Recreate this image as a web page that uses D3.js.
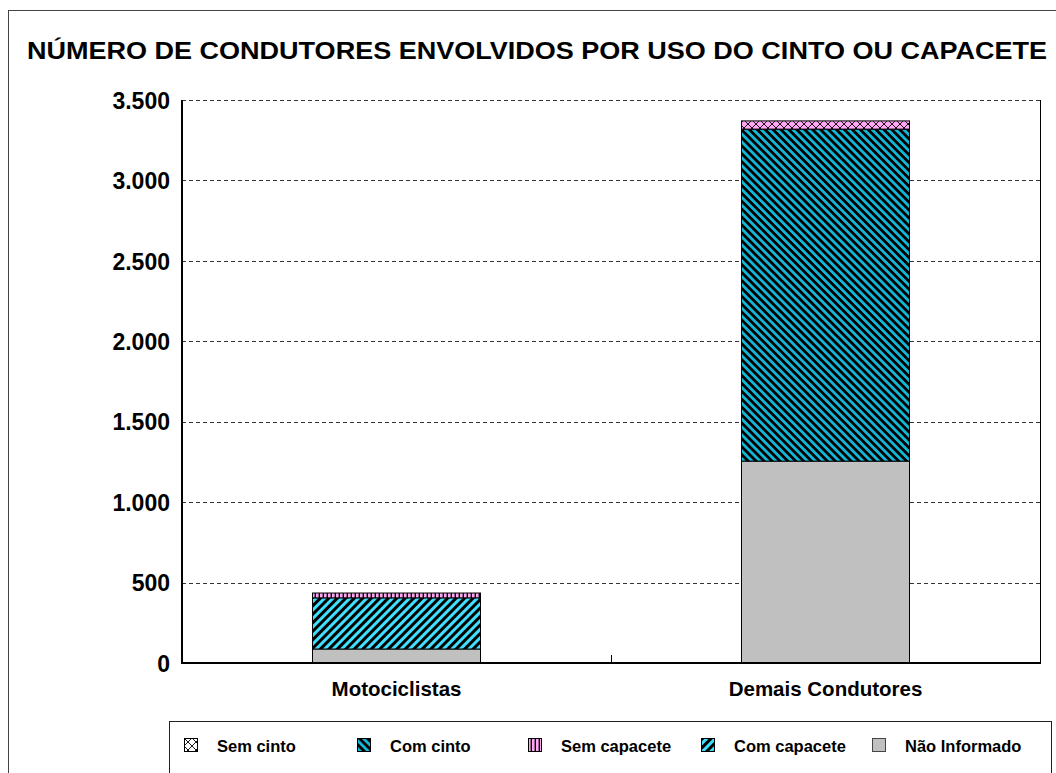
<!DOCTYPE html>
<html>
<head>
<meta charset="utf-8">
<script src="https://cdn.jsdelivr.net/npm/d3@7"></script>
<style>
  body { margin: 0; background: #fff; }
  svg { display: block; }
  text { font-family: "Liberation Sans", Arial, sans-serif; font-weight: bold; fill: #000; }
</style>
</head>
<body>
<div id="chart"></div>
<script>
const categories = ["Motociclistas", "Demais Condutores"];
const legendOrder = ["Sem cinto", "Com cinto", "Sem capacete", "Com capacete", "Não Informado"];
const stackOrder = ["Não Informado", "Com capacete", "Sem capacete", "Com cinto", "Sem cinto"];

// values per category (Motociclistas, Demais Condutores)
const naoInformado = [87, 1255];
const comCapacete = [318, 0];
const semCapacete = [30, 0];
const comCinto = [0, 2064];
const semCinto = [0, 51];

const yTicks = [0, 500, 1000, 1500, 2000, 2500, 3000, 3500];

const rows = categories.map((c, i) => ({
    cat: c,
    "Não Informado": naoInformado[i],
    "Com capacete": comCapacete[i],
    "Sem capacete": semCapacete[i],
    "Com cinto": comCinto[i],
    "Sem cinto": semCinto[i]
}));

const W = 1056, H = 773;
const plot = { left: 182, right: 1040, top: 100, bottom: 663 };

const svg = d3.select("#chart").append("svg").attr("width", W).attr("height", H);
const defs = svg.append("defs");

const pink = "#ffa6f2";

// diagonal stripes "/"
const pCapacete = defs.append("pattern").attr("id", "p-comcapacete")
    .attr("patternUnits", "userSpaceOnUse").attr("width", 6).attr("height", 6)
    .attr("patternTransform", "rotate(45)");
pCapacete.append("rect").attr("width", 6).attr("height", 6).attr("fill", "#3fe0ff");
pCapacete.append("rect").attr("width", 3).attr("height", 6).attr("fill", "#000");

// diagonal stripes "\"
const pCinto = defs.append("pattern").attr("id", "p-comcinto")
    .attr("patternUnits", "userSpaceOnUse").attr("width", 5.6).attr("height", 5.6)
    .attr("patternTransform", "rotate(-45)");
pCinto.append("rect").attr("width", 5.6).attr("height", 5.6).attr("fill", "#12b6d6");
pCinto.append("rect").attr("width", 2.8).attr("height", 5.6).attr("fill", "#000");

// vertical stripes
const pSemCap = defs.append("pattern").attr("id", "p-semcapacete")
    .attr("patternUnits", "userSpaceOnUse").attr("width", 4).attr("height", 4);
pSemCap.append("rect").attr("width", 4).attr("height", 4).attr("fill", pink);
pSemCap.append("rect").attr("x", 2.6).attr("width", 1.4).attr("height", 4).attr("fill", "#000");

// cross hatch
const makeCross = (id, bg) => {
    const p = defs.append("pattern").attr("id", id)
        .attr("patternUnits", "userSpaceOnUse").attr("width", 8).attr("height", 8);
    p.append("rect").attr("width", 8).attr("height", 8).attr("fill", bg);
    p.append("path").attr("d", "M0,0L8,8M8,0L0,8").attr("stroke", "#000").attr("stroke-width", 0.9);
};
makeCross("p-semcinto", pink);
makeCross("p-semcinto-leg", "#fff");

const fills = {
    "Não Informado": "#c0c0c0",
    "Com capacete": "url(#p-comcapacete)",
    "Sem capacete": "url(#p-semcapacete)",
    "Com cinto": "url(#p-comcinto)",
    "Sem cinto": "url(#p-semcinto)"
};
const legendFills = Object.assign({}, fills, { "Sem cinto": "url(#p-semcinto-leg)" });

// outer chart border
svg.append("rect").attr("x", 8.5).attr("y", 10.5).attr("width", 1070).attr("height", 800)
    .attr("fill", "none").attr("stroke", "#444").attr("stroke-width", 1);

// title
svg.append("text").attr("x", 27).attr("y", 58.5)
    .attr("font-size", 23)
    .attr("textLength", 1020).attr("lengthAdjust", "spacingAndGlyphs")
    .text("NÚMERO DE CONDUTORES ENVOLVIDOS POR USO DO CINTO OU CAPACETE");

const x = d3.scaleBand().domain(categories).range([plot.left, plot.right]).paddingInner(0).paddingOuter(0);
const y = d3.scaleLinear().domain([0, 3500]).range([plot.bottom, plot.top]);

const fmt = d3.formatLocale({ decimal: ",", thousands: ".", grouping: [3], currency: ["", ""] }).format(",");

// gridlines
svg.append("g").selectAll("line").data(yTicks.filter(d => d > 0)).join("line")
    .attr("x1", plot.left).attr("x2", plot.right)
    .attr("y1", d => Math.round(y(d)) + 0.5).attr("y2", d => Math.round(y(d)) + 0.5)
    .attr("stroke", "#333").attr("stroke-dasharray", "4,3").attr("stroke-width", 1);

// y labels
const yAxis = d3.axisLeft(y).tickValues(yTicks).tickFormat(fmt).tickSize(0).tickPadding(12);
const gy = svg.append("g").attr("transform", `translate(${plot.left},0)`).call(yAxis);
gy.select(".domain").remove();
gy.selectAll("text").attr("font-size", 23).attr("dy", "0.36em")
    .style("font-family", "Liberation Sans, Arial, sans-serif").style("font-weight", "bold");

// bars
const barW = 168;
const stack = d3.stack().keys(stackOrder);
const layers = stack(rows);
svg.append("g").selectAll("g").data(layers).join("g")
    .attr("fill", d => fills[d.key])
    .selectAll("rect").data(d => d.filter(s => s[1] - s[0] > 0)).join("rect")
    .attr("x", d => x(d.data.cat) + x.bandwidth() / 2 - barW / 2)
    .attr("y", d => y(d[1]))
    .attr("width", barW)
    .attr("height", d => y(d[0]) - y(d[1]))
    .attr("stroke", "#000").attr("stroke-width", 1);

// plot frame: right edge, axes
svg.append("line").attr("x1", plot.right + 0.5).attr("x2", plot.right + 0.5)
    .attr("y1", plot.top).attr("y2", plot.bottom).attr("stroke", "#000");
svg.append("line").attr("x1", plot.left).attr("x2", plot.left)
    .attr("y1", plot.top).attr("y2", plot.bottom + 1).attr("stroke", "#000").attr("stroke-width", 2);
const xAxis = d3.axisBottom(x).tickSize(0).tickPadding(18);
const gx = svg.append("g").attr("transform", `translate(0,${plot.bottom})`).call(xAxis);
gx.select(".domain").attr("stroke", "#000").attr("stroke-width", 2).attr("d", `M${plot.left},0H${plot.right + 1}`);
gx.selectAll("text").attr("font-size", 20.5)
    .style("font-family", "Liberation Sans, Arial, sans-serif").style("font-weight", "bold");
// category separator tick
svg.append("line").attr("x1", x(categories[1]) + 0.5).attr("x2", x(categories[1]) + 0.5)
    .attr("y1", plot.bottom - 8).attr("y2", plot.bottom).attr("stroke", "#000");

// legend
svg.append("rect").attr("x", 169.5).attr("y", 721.5).attr("width", 882).attr("height", 80)
    .attr("fill", "#fff").attr("stroke", "#222").attr("stroke-width", 1);
const legX = [184, 357, 528, 701, 872];
const leg = svg.append("g").selectAll("g").data(legendOrder).join("g")
    .attr("transform", (d, i) => `translate(${legX[i]},738)`);
leg.append("rect").attr("x", 0.5).attr("y", 0.5).attr("width", 13).attr("height", 13)
    .attr("fill", d => legendFills[d]).attr("stroke", d => d === "Não Informado" ? "#444" : "#000");
leg.append("text").attr("x", 33).attr("y", 13.5).attr("font-size", 16.5).text(d => d);
</script>
</body>
</html>
